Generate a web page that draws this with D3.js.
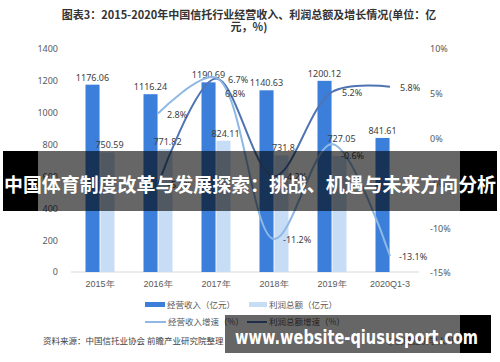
<!DOCTYPE html>
<html>
<head>
<meta charset="utf-8">
<script src="https://cdn.jsdelivr.net/npm/d3@7"></script>
<style>
    body { margin: 0; background: #fff; }
    svg { display: block; font-family: "Noto Sans CJK SC", "Noto Sans", sans-serif; }
</style>
</head>
<body>
<svg id="chart" width="500" height="362"></svg>
<script>
var categories = ['2015年', '2016年', '2017年', '2018年', '2019年', '2020Q1-3'];
var revenue = [1176.06, 1116.24, 1190.69, 1140.63, 1200.12, 841.61];
var profit = [750.59, 771.82, 824.11, 731.8, 727.05, null];
// growth lines start at 2016
var growthCats = categories.slice(1);
var revenueGrowth = [2.8, 6.8, -11.2, -0.6, -13.1];
var profitGrowth = [-5.1, 6.7, -4.2, 5.2, 5.8];
var leftTicks = [0, 200, 400, 600, 800, 1000, 1200, 1400];
var rightTicks = [-15, -10, -5, 0, 5, 10];

var svg = d3.select('#chart');

var x = d3.scaleBand().domain(categories).range([71, 419]).paddingInner(0.5).paddingOuter(0.25);
var xc = function(c) { return x(c) + x.bandwidth() / 2; };
var yL = d3.scaleLinear().domain([0, 1400]).range([272, 49]);
var yR = d3.scaleLinear().domain([-15, 10]).range([273, 49]);

// title
var title = svg.append('g').attr('fill', '#333').attr('font-weight', 'bold').attr('font-size', 11)
    .attr('text-anchor', 'middle');
title.append('text').attr('x', 249).attr('y', 19).text('图表3：2015-2020年中国信托行业经营收入、利润总额及增长情况(单位：亿');
title.append('text').attr('x', 249).attr('y', 31).text('元，%)');

// axes
var axL = svg.append('g').attr('transform', 'translate(60,0)')
    .call(d3.axisLeft(yL).tickValues(leftTicks).tickSize(0).tickPadding(2).tickFormat(d3.format('d')));
var axR = svg.append('g').attr('transform', 'translate(428,0)')
    .call(d3.axisRight(yR).tickValues(rightTicks).tickSize(0).tickPadding(2).tickFormat(function(d) { return d + '%'; }));
[axL, axR].forEach(function(a) {
    a.select('.domain').remove();
    a.selectAll('text').attr('fill', '#595959').attr('font-size', 9).attr('font-family', '"Noto Sans", sans-serif');
});

svg.append('line').attr('x1', 71).attr('x2', 419).attr('y1', yL(0)).attr('y2', yL(0))
    .attr('stroke', '#d9d9d9').attr('stroke-width', 1);

var axB = svg.append('g').attr('transform', 'translate(0,' + yL(0) + ')')
    .call(d3.axisBottom(x).tickSize(0).tickPadding(9));
axB.select('.domain').remove();
axB.selectAll('text').attr('fill', '#595959').attr('font-size', 9);

// bars
var inner = d3.scaleBand().domain(['rev', 'pro']).range([0, x.bandwidth()]).paddingInner(0.06);
var bars = svg.append('g');
bars.selectAll('rect.rev').data(categories).enter().append('rect')
    .attr('x', function(d) { return x(d) + inner('rev'); })
    .attr('y', function(d, i) { return yL(revenue[i]); })
    .attr('width', inner.bandwidth())
    .attr('height', function(d, i) { return yL(0) - yL(revenue[i]); })
    .attr('fill', '#3b7fdb');
bars.selectAll('rect.pro').data(categories.filter(function(d, i) { return profit[i] != null; })).enter().append('rect')
    .attr('x', function(d) { return x(d) + inner('pro'); })
    .attr('y', function(d, i) { return yL(profit[i]); })
    .attr('width', inner.bandwidth())
    .attr('height', function(d, i) { return yL(0) - yL(profit[i]); })
    .attr('fill', '#c7ddf6');

var labels = svg.append('g').attr('font-size', 9).attr('fill', '#404040').attr('text-anchor', 'middle')
    .attr('font-family', '"Noto Sans", sans-serif');
categories.forEach(function(c, i) {
    labels.append('text').attr('x', x(c) + inner('rev') + inner.bandwidth() / 2).attr('y', yL(revenue[i]) - 4).text(revenue[i]);
    if (profit[i] != null) {
        var lift = i == 4 ? 14 : 4;
        labels.append('text').attr('x', x(c) + inner('pro') + inner.bandwidth() / 2 + 2).attr('y', yL(profit[i]) - lift).text(profit[i]);
    }
});

// growth lines
var line = function(vals) {
    return d3.line()
        .x(function(d, i) { return xc(growthCats[i]); })
        .y(function(d) { return yR(d); })
        .curve(d3.curveCatmullRom.alpha(0.5))(vals);
};
svg.append('path').attr('d', line(profitGrowth)).attr('fill', 'none')
    .attr('stroke', '#4f74b3').attr('stroke-width', 2);
svg.append('path').attr('d', line(revenueGrowth)).attr('fill', 'none')
    .attr('stroke', '#8fb8e6').attr('stroke-width', 2);

var gl = svg.append('g').attr('font-size', 9).attr('fill', '#404040').attr('font-family', '"Noto Sans", sans-serif');
revenueGrowth.forEach(function(v, i) {
    var dy = i == 1 ? 19 : (i == 3 ? 15 : 4);
    gl.append('text').attr('x', xc(growthCats[i]) + 9).attr('y', yR(v) + dy).text(v + '%');
});
profitGrowth.forEach(function(v, i) {
    gl.append('text').attr('x', xc(growthCats[i]) + (i == 1 ? 12 : 10)).attr('y', yR(v) + 4).text(v + '%');
});

// legend
var lg = svg.append('g').attr('font-size', 8.5).attr('fill', '#595959');
lg.append('rect').attr('x', 145).attr('y', 302).attr('width', 20).attr('height', 5).attr('fill', '#3b7fdb');
lg.append('text').attr('x', 167).attr('y', 308).text('经营收入（亿元）');
lg.append('rect').attr('x', 249).attr('y', 302).attr('width', 18).attr('height', 5).attr('fill', '#c7ddf6');
lg.append('text').attr('x', 269).attr('y', 308).text('利润总额（亿元）');
lg.append('line').attr('x1', 145).attr('x2', 166).attr('y1', 322).attr('y2', 322).attr('stroke', '#8fb8e6').attr('stroke-width', 2);
lg.append('text').attr('x', 168).attr('y', 325).text('经营收入增速（%）');
lg.append('line').attr('x1', 247).attr('x2', 267).attr('y1', 322).attr('y2', 322).attr('stroke', '#4f74b3').attr('stroke-width', 2);
lg.append('text').attr('x', 269).attr('y', 325).text('利润总额增速（%）');

svg.append('text').attr('x', 43).attr('y', 344).attr('font-size', 8.5).attr('fill', '#404040')
    .text('资料来源：中国信托业协会 前瞻产业研究院整理');
svg.append('text').attr('x', 462).attr('y', 344).attr('text-anchor', 'end').attr('font-size', 8.5).attr('fill', '#595959')
    .text('@前瞻经济学人APP');

// overlay banners
var banner = svg.append('g');
banner.append('rect').attr('x', 3).attr('y', 151).attr('width', 35).attr('height', 60).attr('fill', '#000');
banner.append('rect').attr('x', 38).attr('y', 151).attr('width', 422).attr('height', 60).attr('fill', 'rgba(0,0,0,0.6)');
banner.append('rect').attr('x', 460).attr('y', 151).attr('width', 37).attr('height', 60).attr('fill', '#000');
banner.append('text').attr('x', 4).attr('y', 192).attr('fill', '#fff').attr('font-weight', 'bold').attr('font-size', 19)
    .attr('textLength', 492).attr('lengthAdjust', 'spacingAndGlyphs')
    .text('中国体育制度改革与发展探索：挑战、机遇与未来方向分析');

var site = svg.append('g');
site.append('rect').attr('x', 225).attr('y', 315).attr('width', 235).attr('height', 38).attr('fill', 'rgba(0,0,0,0.6)');
site.append('rect').attr('x', 460).attr('y', 315).attr('width', 31).attr('height', 38).attr('fill', '#000');
site.append('text').attr('x', 235).attr('y', 344).attr('fill', '#fff').attr('font-weight', 'bold').attr('font-size', 19)
    .attr('font-family', '"DejaVu Sans", sans-serif')
    .attr('textLength', 243).attr('lengthAdjust', 'spacingAndGlyphs')
    .text('www.website-qiususport.com');
</script>
</body>
</html>
